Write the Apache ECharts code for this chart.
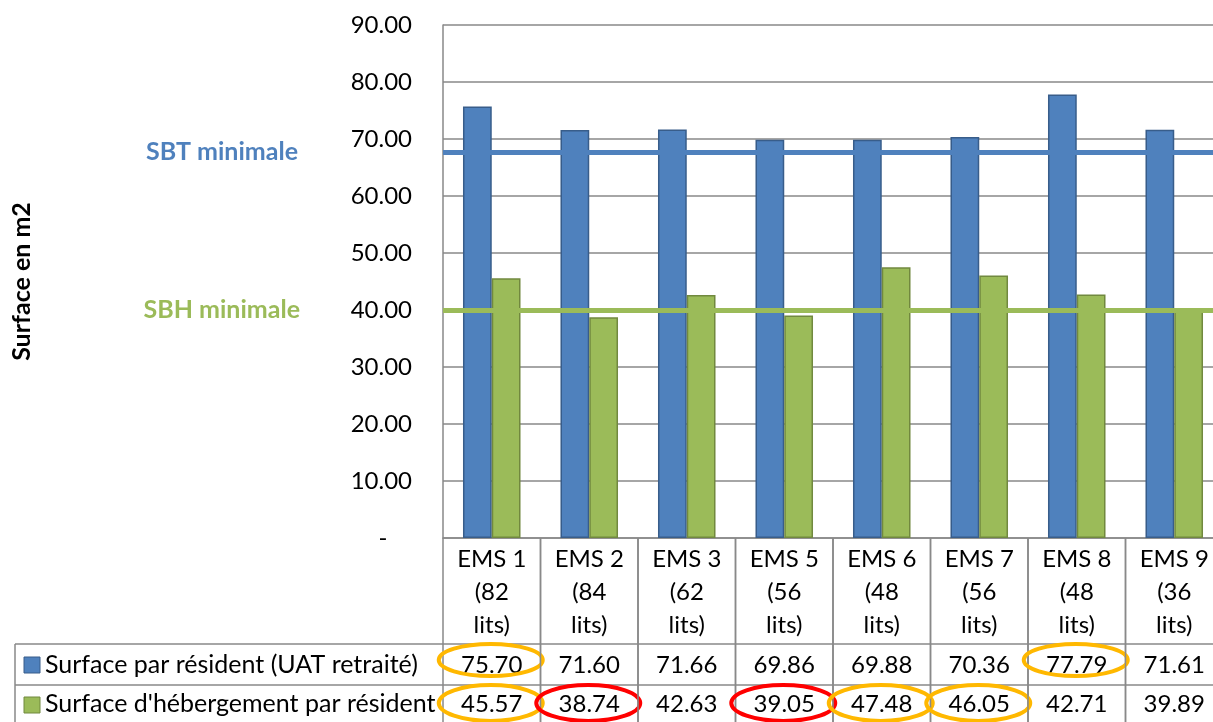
<!DOCTYPE html>
<html>
<head>
<meta charset="utf-8">
<script src="https://cdn.jsdelivr.net/npm/echarts@6/dist/echarts.min.js"></script>
<style>
html,body{margin:0;padding:0;background:#fff;}
#chart{width:1213px;height:722px;}
</style>
</head>
<body>
<div id="chart"></div>
<script>
// ---- data ----
const emsNames = ['EMS 1','EMS 2','EMS 3','EMS 5','EMS 6','EMS 7','EMS 8','EMS 9'];
const emsBeds = [82,84,62,56,48,56,48,36];
const surfaceResident = [75.70,71.60,71.66,69.86,69.88,70.36,77.79,71.61];
const surfaceHebergement = [45.57,38.74,42.63,39.05,47.48,46.05,42.71,39.89];
const seriesNames = ["Surface par résident (UAT retraité)", "Surface d'hébergement par résident"];
const sbtMin = 67.7;
const sbhMin = 40;
const yTicks = [0,10,20,30,40,50,60,70,80,90];
// highlight circles drawn around table values (annotations)
const highlightResident = ['orange',null,null,null,null,null,'orange',null];
const highlightHebergement = ['orange','red',null,'red','orange','orange',null,null];

const BLUE = '#4F81BD', BLUE_D = '#385D8A', GREEN = '#9BBB59', GREEN_D = '#71893F';
const GRID = '#898989';
const FONT = 'Lato';
const HL = {orange:'#FFB800', red:'#FF0000'};

const categories = emsNames.map((n,i)=> n + '\n(' + emsBeds[i] + '\nlits)');

const chart = echarts.init(document.getElementById('chart'), null, {renderer:'canvas'});

function renderTable(params, api){
  const idx = api.value(0);
  const p = api.coord([idx, 0]);
  const w = api.size([1, 0])[0];
  const x0 = p[0] - w/2, cx = p[0], y0 = p[1];
  const H1 = 106, H2 = 147, H3 = 192;
  const ls = {stroke: GRID, lineWidth: 1.5};
  const ch = [];
  ch.push({type:'line', shape:{x1:x0,y1:y0,x2:x0,y2:y0+H3}, style:ls});
  ch.push({type:'line', shape:{x1:x0+w,y1:y0,x2:x0+w,y2:y0+H3}, style:ls});
  ch.push({type:'line', shape:{x1:x0,y1:y0+H1,x2:x0+w,y2:y0+H1}, style:ls});
  ch.push({type:'line', shape:{x1:x0,y1:y0+H2,x2:x0+w,y2:y0+H2}, style:ls});
  ch.push({type:'text', style:{text: categories[idx], x: cx, y: y0+54, align:'center', verticalAlign:'middle', lineHeight:33, font: '24px ' + FONT, fill:'#000'}});
  ch.push({type:'text', style:{text: surfaceResident[idx].toFixed(2), x: cx, y: y0+127, align:'center', verticalAlign:'middle', font: '24px ' + FONT, fill:'#000'}});
  ch.push({type:'text', style:{text: surfaceHebergement[idx].toFixed(2), x: cx, y: y0+166, align:'center', verticalAlign:'middle', font: '24px ' + FONT, fill:'#000'}});
  if (highlightResident[idx]) ch.push({type:'ellipse', shape:{cx: cx-1, cy: y0+122, rx: 52, ry: 16}, style:{fill:null, stroke: HL[highlightResident[idx]], lineWidth: 4}});
  if (highlightHebergement[idx]) ch.push({type:'ellipse', shape:{cx: cx-1, cy: y0+165, rx: 52, ry: 18}, style:{fill:null, stroke: HL[highlightHebergement[idx]], lineWidth: 4}});
  if (idx === 0) {
    const lx = 15;
    ch.push({type:'line', shape:{x1:lx,y1:y0+H1,x2:x0,y2:y0+H1}, style:ls});
    ch.push({type:'line', shape:{x1:lx,y1:y0+H2,x2:x0,y2:y0+H2}, style:ls});
    ch.push({type:'line', shape:{x1:lx,y1:y0+H1,x2:lx,y2:y0+H3}, style:ls});
    ch.push({type:'rect', shape:{x:24,y:y0+119,width:16,height:16}, style:{fill:BLUE, stroke:BLUE_D, lineWidth:1}});
    ch.push({type:'rect', shape:{x:24,y:y0+159,width:16,height:16}, style:{fill:GREEN, stroke:GREEN_D, lineWidth:1}});
    ch.push({type:'text', style:{text: seriesNames[0], x: 45, y: y0+127, align:'left', verticalAlign:'middle', font: '25px ' + FONT, fill:'#000'}});
    ch.push({type:'text', style:{text: seriesNames[1], x: 45, y: y0+166, align:'left', verticalAlign:'middle', font: '25px ' + FONT, fill:'#000'}});
  }
  return {type:'group', children: ch};
}

const option = {
  animation: false,
  textStyle: {fontFamily: FONT},
  grid: {left: 443, top: 25, right: -10, bottom: 184, containLabel: false, outerBoundsMode: 'none'},
  xAxis: {
    type: 'category', data: categories,
    axisLine: {show: true, lineStyle: {color: GRID, width: 1.5}},
    axisTick: {show: false},
    axisLabel: {show: false},
    splitLine: {show: false}
  },
  yAxis: {
    type: 'value', min: 0, max: 90, interval: 10,
    name: 'Surface en m2', nameLocation: 'middle', nameGap: 409, nameRotate: 90,
    nameTextStyle: {fontFamily: FONT, fontWeight: 'bold', fontSize: 25, color: '#000'},
    axisLine: {show: true, lineStyle: {color: GRID, width: 1.5}},
    axisTick: {show: false},
    axisLabel: {margin: 31, fontSize: 24, color: '#000', fontFamily: FONT,
      formatter: v => v === 0 ? '-    ' : v.toFixed(2)},
    splitLine: {show: true, lineStyle: {color: GRID, width: 1.5}}
  },
  series: [
    {
      name: seriesNames[0], type: 'bar', data: surfaceResident,
      barGap: '0%', barCategoryGap: '41%',
      itemStyle: {color: BLUE, borderColor: BLUE_D, borderWidth: 1.5},
      markLine: {
        silent: true, symbol: ['none','none'],
        lineStyle: {color: BLUE, width: 5, type: 'solid'},
        label: {show: true, position: 'start', distance: 145, formatter: 'SBT minimale',
          color: BLUE, fontWeight: 'bold', fontSize: 25, fontFamily: FONT},
        data: [{yAxis: sbtMin}]
      }
    },
    {
      name: seriesNames[1], type: 'bar', data: surfaceHebergement,
      itemStyle: {color: GREEN, borderColor: GREEN_D, borderWidth: 1.5},
      markLine: {
        silent: true, symbol: ['none','none'],
        lineStyle: {color: GREEN, width: 5, type: 'solid'},
        label: {show: true, position: 'start', distance: 143, formatter: 'SBH minimale',
          color: GREEN, fontWeight: 'bold', fontSize: 25, fontFamily: FONT},
        data: [{yAxis: sbhMin}]
      }
    },
    {
      type: 'custom', clip: false, silent: true,
      renderItem: renderTable,
      data: emsNames.map((n,i)=>[i, 0]),
      encode: {x: 0, y: 1},
      z: 5
    }
  ]
};
chart.setOption(option);
</script>
</body>
</html>
